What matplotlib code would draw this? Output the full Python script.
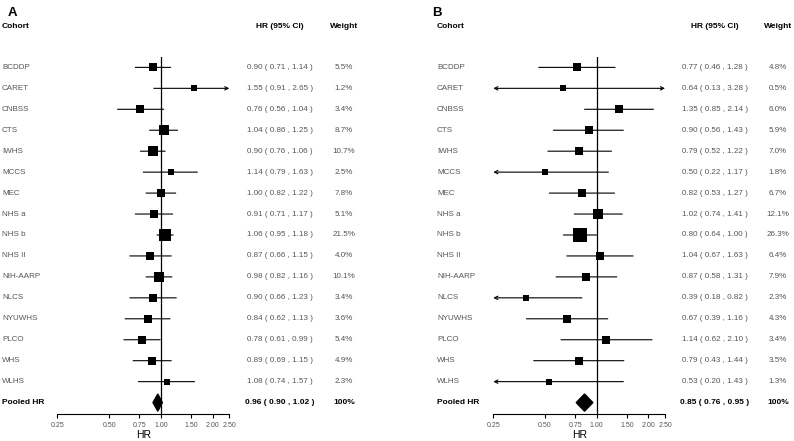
import matplotlib
matplotlib.use('Agg')
import matplotlib.pyplot as plt
import matplotlib.transforms as mtransforms
from matplotlib.patches import Polygon

cohorts = ['BCDDP', 'CARET', 'CNBSS', 'CTS', 'IWHS', 'MCCS', 'MEC', 'NHS a', 'NHS b',
           'NHS II', 'NIH-AARP', 'NLCS', 'NYUWHS', 'PLCO', 'WHS', 'WLHS']

# panel A
hr_a = [0.90, 1.55, 0.76, 1.04, 0.90, 1.14, 1.00, 0.91, 1.06, 0.87, 0.98, 0.90, 0.84, 0.78, 0.89, 1.08]
lo_a = [0.71, 0.91, 0.56, 0.86, 0.76, 0.79, 0.82, 0.71, 0.95, 0.66, 0.82, 0.66, 0.62, 0.61, 0.69, 0.74]
hi_a = [1.14, 2.65, 1.04, 1.25, 1.06, 1.63, 1.22, 1.17, 1.18, 1.15, 1.16, 1.23, 1.13, 0.99, 1.15, 1.57]
wt_a = [5.5, 1.2, 3.4, 8.7, 10.7, 2.5, 7.8, 5.1, 21.5, 4.0, 10.1, 3.4, 3.6, 5.4, 4.9, 2.3]
pooled_a = [0.96, 0.90, 1.02]

# panel B
hr_b = [0.77, 0.64, 1.35, 0.90, 0.79, 0.50, 0.82, 1.02, 0.80, 1.04, 0.87, 0.39, 0.67, 1.14, 0.79, 0.53]
lo_b = [0.46, 0.13, 0.85, 0.56, 0.52, 0.22, 0.53, 0.74, 0.64, 0.67, 0.58, 0.18, 0.39, 0.62, 0.43, 0.20]
hi_b = [1.28, 3.28, 2.14, 1.43, 1.22, 1.17, 1.27, 1.41, 1.00, 1.63, 1.31, 0.82, 1.16, 2.10, 1.44, 1.43]
wt_b = [4.8, 0.5, 6.0, 5.9, 7.0, 1.8, 6.7, 12.1, 26.3, 6.4, 7.9, 2.3, 4.3, 3.4, 3.5, 1.3]
pooled_b = [0.85, 0.76, 0.95]

ticks = [0.25, 0.50, 0.75, 1.00, 1.50, 2.00, 2.50]
tick_labels = ['0.25', '0.50', '0.75', '1.00', '1.50', '2.00', '2.50']

W, H = 794, 441
plt.rcParams['font.family'] = ['Liberation Sans', 'DejaVu Sans']
grey = '#555555'

fig = plt.figure(figsize=(W / 100, H / 100), dpi=100)


def forest(x0, x1, name_x, letter_x, hr_x, wt_x, letter, hr, lo, hi, wt, pooled):
    ax = fig.add_axes([x0 / W, (H - 413.7) / H, (x1 - x0) / W, (413.7 - 56.7) / H])
    ax.set_xscale('log')
    ax.set_xlim(ticks[0], ticks[-1])
    ax.set_ylim(16.53, -0.51)
    ax.axvline(1, color='black', lw=0.9, zorder=1)

    # CI lines (with arrows when cut off) and boxes
    for i in range(len(cohorts)):
        a = max(lo[i], ticks[0])
        b = min(hi[i], ticks[-1])
        cut_l = lo[i] < ticks[0]
        cut_r = hi[i] > ticks[-1]
        style = '-'
        if cut_l and cut_r:
            style = '<->'
        elif cut_l:
            style = '<-'
        elif cut_r:
            style = '->'
        ax.annotate('', xy=(b, i), xytext=(a, i),
                    arrowprops=dict(arrowstyle=style, lw=0.8, color='black',
                                    shrinkA=0, shrinkB=0, mutation_scale=6),
                    annotation_clip=False)
        side = 3.8 + 1.8 * wt[i] ** 0.5
        ax.plot(hr[i], i, 's', color='black', ms=side * 0.72, mew=0, zorder=3, clip_on=False)

    # pooled diamond
    r = len(cohorts)
    d = 0.41
    ax.add_patch(Polygon([(pooled[1], r), (pooled[0], r - d), (pooled[2], r), (pooled[0], r + d)],
                         closed=True, color='black', zorder=3, clip_on=False))

    for s in ['top', 'right', 'left']:
        ax.spines[s].set_visible(False)
    ax.spines['bottom'].set_linewidth(0.8)
    ax.set_yticks([])
    ax.minorticks_off()
    ax.set_xticks(ticks)
    ax.set_xticklabels(tick_labels)
    ax.tick_params(axis='x', direction='out', length=3, width=0.8, labelsize=5,
                   labelcolor=grey, pad=3)
    ax.set_xlabel('HR', fontsize=7.5, labelpad=0.5)

    # text columns
    tr = mtransforms.blended_transform_factory(fig.transFigure, ax.transData)
    ax.text(letter_x / W, -2.6, letter, transform=tr, fontsize=9.5, fontweight='bold', va='center')
    ax.text(name_x / W, -1.97, 'Cohort', transform=tr, fontsize=6, fontweight='bold', va='center')
    ax.text(hr_x / W, -1.97, 'HR (95% CI)', transform=tr, fontsize=6, fontweight='bold',
            va='center', ha='center')
    ax.text(wt_x / W, -1.97, 'Weight', transform=tr, fontsize=6, fontweight='bold',
            va='center', ha='center')
    for i, name in enumerate(cohorts):
        ax.text(name_x / W, i, name, transform=tr, fontsize=5.8, color=grey, va='center')
        ax.text(hr_x / W, i, f'{hr[i]:.2f} ( {lo[i]:.2f} , {hi[i]:.2f} )', transform=tr,
                fontsize=5.8, color=grey, va='center', ha='center')
        ax.text(wt_x / W, i, f'{wt[i]:.1f}%', transform=tr, fontsize=5.8, color=grey,
                va='center', ha='center')
    ax.text(name_x / W, r, 'Pooled HR', transform=tr, fontsize=6, fontweight='bold', va='center')
    ax.text(hr_x / W, r, f'{pooled[0]:.2f} ( {pooled[1]:.2f} , {pooled[2]:.2f} )', transform=tr,
            fontsize=6, fontweight='bold', va='center', ha='center')
    ax.text(wt_x / W, r, '100%', transform=tr, fontsize=6, fontweight='bold',
            va='center', ha='center')
    return ax


forest(57.3, 229.3, 2, 8, 280, 344, 'A', hr_a, lo_a, hi_a, wt_a, pooled_a)
forest(493.3, 665, 437, 432, 715, 778, 'B', hr_b, lo_b, hi_b, wt_b, pooled_b)

fig.savefig('out.png', dpi=100)
